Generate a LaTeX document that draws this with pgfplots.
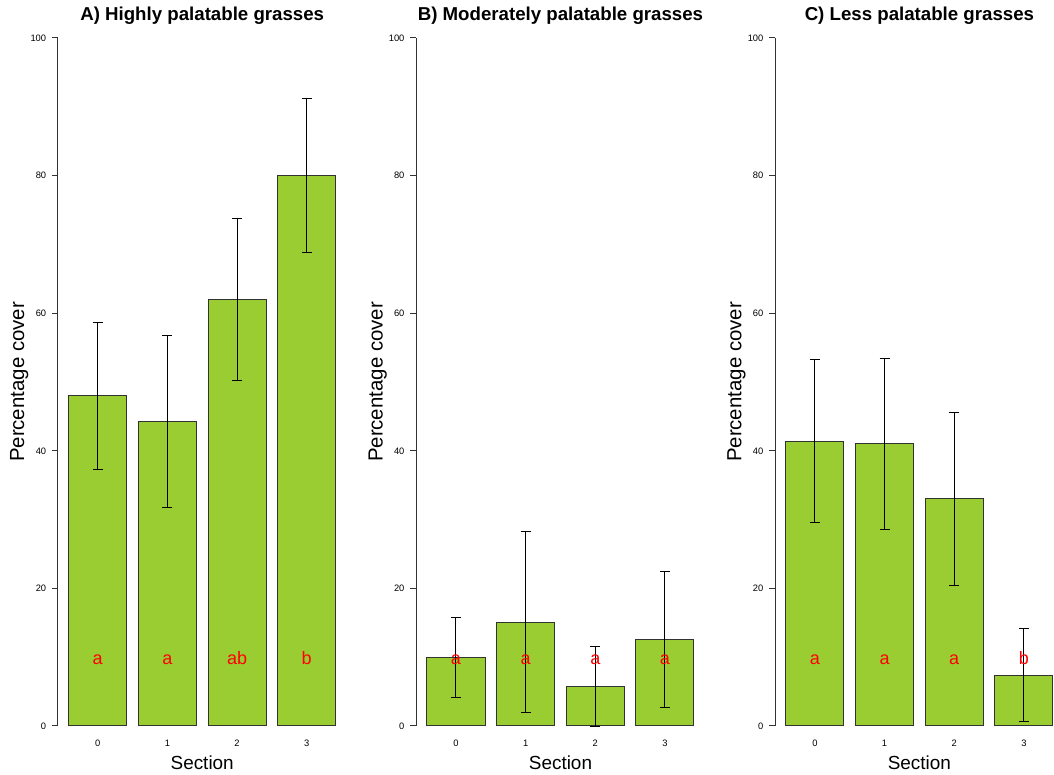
\documentclass[border=0pt]{standalone}
\usepackage{pgfplots}
\pgfplotsset{compat=1.18}
\usepackage{fontspec}
\setmainfont{Liberation Sans}
\definecolor{barfill}{RGB}{154,205,50}
\definecolor{bardraw}{RGB}{50,50,50}

\pgfplotsset{panel/.style={
  scale only axis, width=216.3pt, height=516pt,
  xmin=0.016, xmax=4.984, ymin=0, ymax=100,
  axis lines=left, axis line style={-}, x axis line style={draw=none},
  y axis line style={line width=0.75pt, black!80},
  xtick={0.7,1.9,3.1,4.3}, xticklabels={0,1,2,3}, xtick style={draw=none},
  ytick={0,20,40,60,80,100}, tick align=outside, major tick length=4.5pt,
  ytick style={black!80, line width=0.75pt},
  tick label style={font=\fontsize{7}{8}\selectfont},
  /pgf/number format/assume math mode=true,
  xticklabel style={anchor=center, yshift=-8.25pt},
  yticklabel style={anchor=east, inner sep=0pt, xshift=-4.2pt},
  ylabel={Percentage cover}, xlabel={Section},
  ylabel style={at={([xshift=-29pt]axis description cs:0,0.5)}, anchor=center, font=\fontsize{15.3}{16}\selectfont},
  xlabel style={at={([yshift=-27.5pt]axis description cs:0.5,0)}, anchor=center, font=\fontsize{14.2}{16}\selectfont},
  title style={at={(axis description cs:0.5,1)}, anchor=center, yshift=10.5pt, font=\bfseries\fontsize{14}{16}\selectfont},
  clip=false,
},
bars/.style={ybar, bar width=1, fill=barfill, draw=bardraw, line width=0.75pt,
  error bars/.cd, y dir=both, y explicit,
  error bar style={black, line width=0.75pt},
  error mark options={rotate=90, mark size=3.75pt, black, line width=0.75pt}},
letters/.style={draw=none, mark=none, nodes near coords, point meta=explicit symbolic,
  nodes near coords style={red, anchor=base, inner sep=0pt, font=\fontsize{13.5}{14}\selectfont}}
}

\begin{document}
\begin{tikzpicture}
\useasboundingbox (-43.5pt,-36.75pt) rectangle (747pt,544.5pt);

\begin{axis}[panel, at={(0pt,0pt)}, anchor=south west, title={A) Highly palatable grasses}]
\addplot[bars] coordinates {
  (0.7,48.0) +- (0,10.7)
  (1.9,44.3) +- (0,12.5)
  (3.1,62.0) +- (0,11.8)
  (4.3,80.0) +- (0,11.2)
};
\addplot[letters] table[meta=label, row sep=\\] {
x y label\\ 0.7 9.0 a\\ 1.9 9.0 a\\ 3.1 9.0 ab\\ 4.3 9.0 b\\
};
\end{axis}

\begin{axis}[panel, at={(268.7pt,0pt)}, anchor=south west, title={B) Moderately palatable grasses}]
\addplot[bars] coordinates {
  (0.7,9.9) +- (0,5.8)
  (1.9,15.1) +- (0,13.1)
  (3.1,5.7) += (0,5.9) -= (0,5.7)
  (4.3,12.6) +- (0,9.9)
};
\addplot[letters] table[meta=label, row sep=\\] {
x y label\\ 0.7 9.0 a\\ 1.9 9.0 a\\ 3.1 9.0 a\\ 4.3 9.0 a\\
};
\end{axis}

\begin{axis}[panel, at={(537.9pt,0pt)}, anchor=south west, title={C) Less palatable grasses}]
\addplot[bars] coordinates {
  (0.7,41.4) +- (0,11.8)
  (1.9,41.0) +- (0,12.4)
  (3.1,33.0) +- (0,12.6)
  (4.3,7.4) +- (0,6.7)
};
\addplot[letters] table[meta=label, row sep=\\] {
x y label\\ 0.7 9.0 a\\ 1.9 9.0 a\\ 3.1 9.0 a\\ 4.3 9.0 b\\
};
\end{axis}
\end{tikzpicture}
\end{document}
